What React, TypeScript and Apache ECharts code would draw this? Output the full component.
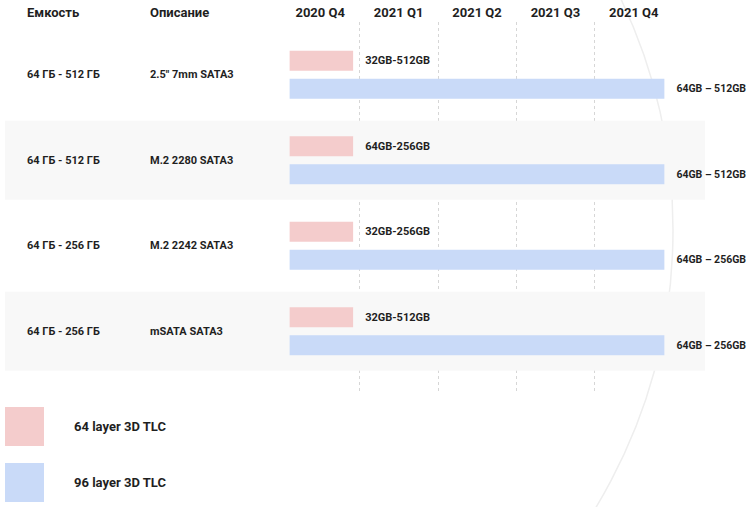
import React, { useEffect, useRef } from "react";
import * as echarts from "echarts";

const quarters = ["2020 Q4", "2021 Q1", "2021 Q2", "2021 Q3", "2021 Q4"];
const capacities = ["64 ГБ - 512 ГБ", "64 ГБ - 512 ГБ", "64 ГБ - 256 ГБ", "64 ГБ - 256 ГБ"];
const descriptions = ['2.5" 7mm SATA3', "M.2 2280 SATA3", "M.2 2242 SATA3", "mSATA SATA3"];
const layer64Start = [0.11, 0.11, 0.11, 0.11];
const layer64End = [0.92, 0.92, 0.92, 0.92];
const layer64Labels = ["32GB-512GB", "64GB-256GB", "32GB-256GB", "32GB-512GB"];
const layer96Start = [0.11, 0.11, 0.11, 0.11];
const layer96End = [4.89, 4.89, 4.89, 4.89];
const layer96Labels = ["64GB – 512GB", "64GB – 512GB", "64GB – 256GB", "64GB – 256GB"];
const rowShaded = [0, 1, 0, 1];
const headers = ["Емкость", "Описание"];
const seriesNames = ["64 layer 3D TLC", "96 layer 3D TLC"];

const FONT = "Roboto, 'Noto Sans', sans-serif";
const PINK = "#f4cccc";
const BLUE = "#c9daf8";
const TEXT = "#1f1f1f";

export default function App() {
  const ref = useRef<HTMLDivElement>(null);
  useEffect(() => {
    if (!ref.current) return;
    const chart = echarts.init(ref.current, undefined, { renderer: "svg" });
    const option: any = {
      animation: false,
      backgroundColor: "#ffffff",
      textStyle: { fontFamily: FONT },
      graphic: [
        {
          type: "circle",
          z: -10,
          silent: true,
          shape: { cx: 135, cy: 230, r: 538 },
          style: { fill: "none", stroke: "#eeeeee", lineWidth: 1.5 },
        },
        {
          type: "text",
          left: 27,
          top: 6,
          style: { text: headers[0], font: `bold 13px ${FONT}`, fill: TEXT },
        },
        {
          type: "text",
          left: 150,
          top: 6,
          style: { text: headers[1], font: `bold 13px ${FONT}`, fill: TEXT },
        },
      ],
      legend: {
        data: seriesNames,
        orient: "vertical",
        left: 0,
        top: 402,
        height: 200,
        itemWidth: 39,
        itemHeight: 39,
        itemGap: 17,
        icon: "rect",
        selectedMode: false,
        textStyle: { fontFamily: FONT, fontSize: 13, fontWeight: "bold", color: TEXT, padding: [0, 0, 0, 25] },
      },
      grid: [
        { left: 281, width: 392, top: 22, bottom: 114 },
        { left: 281, width: 392, top: 32, height: 342 },
        { left: 5, width: 700, top: 32, height: 342 },
      ],
      xAxis: [
        {
          gridIndex: 0,
          type: "category",
          position: "top",
          data: quarters,
          boundaryGap: true,
          axisLine: { show: false },
          axisTick: { show: false },
          axisLabel: { margin: 3, fontFamily: FONT, fontSize: 13, fontWeight: "bold", color: TEXT },
          splitLine: {
            show: true,
            showMinLine: false,
            showMaxLine: false,
            lineStyle: { type: [3, 3], color: "#d6d6d6", width: 1 },
          },
        },
        { gridIndex: 1, type: "value", min: 0, max: 5, show: false },
        { gridIndex: 2, type: "value", min: 0, max: 1, show: false },
      ],
      yAxis: [
        { gridIndex: 0, type: "value", show: false },
        { gridIndex: 1, type: "category", data: descriptions, inverse: true, show: false },
        {
          gridIndex: 2,
          type: "category",
          data: descriptions,
          inverse: true,
          axisLine: { show: false },
          axisTick: { show: false },
          splitLine: { show: false },
          axisLabel: {
            inside: true,
            margin: 22,
            formatter: (value: string, index: number) => `{a|${capacities[index]}}{b|${value}}`,
            rich: {
              a: { width: 123, fontFamily: FONT, fontSize: 11, fontWeight: "bold", color: TEXT },
              b: { fontFamily: FONT, fontSize: 11, fontWeight: "bold", color: TEXT },
            },
          },
        },
      ],
      series: [
        {
          name: "band",
          type: "bar",
          xAxisIndex: 2,
          yAxisIndex: 2,
          barWidth: 79,
          silent: true,
          z: 0,
          data: rowShaded.map((s) => ({ value: 1, itemStyle: { color: s ? "#f8f8f8" : "rgba(0,0,0,0)" } })),
        },
        {
          name: "base64",
          type: "bar",
          xAxisIndex: 1,
          yAxisIndex: 1,
          stack: "l64",
          barWidth: 20,
          barGap: "40%",
          silent: true,
          itemStyle: { color: "rgba(0,0,0,0)" },
          data: layer64Start,
        },
        {
          name: seriesNames[0],
          type: "bar",
          xAxisIndex: 1,
          yAxisIndex: 1,
          stack: "l64",
          barWidth: 20,
          barGap: "40%",
          itemStyle: { color: PINK },
          label: {
            show: true,
            position: "right",
            distance: 12,
            fontFamily: FONT,
            fontSize: 11,
            fontWeight: "bold",
            color: TEXT,
            formatter: (p: any) => layer64Labels[p.dataIndex],
          },
          data: layer64End.map((e, i) => +(e - layer64Start[i]).toFixed(3)),
        },
        {
          name: "base96",
          type: "bar",
          xAxisIndex: 1,
          yAxisIndex: 1,
          stack: "l96",
          barWidth: 20,
          barGap: "40%",
          silent: true,
          itemStyle: { color: "rgba(0,0,0,0)" },
          data: layer96Start,
        },
        {
          name: seriesNames[1],
          type: "bar",
          xAxisIndex: 1,
          yAxisIndex: 1,
          stack: "l96",
          barWidth: 20,
          barGap: "40%",
          itemStyle: { color: BLUE },
          label: {
            show: true,
            position: "right",
            distance: 12,
            fontFamily: FONT,
            fontSize: 10.5,
            fontWeight: "bold",
            color: TEXT,
            formatter: (p: any) => layer96Labels[p.dataIndex],
          },
          data: layer96End.map((e, i) => +(e - layer96Start[i]).toFixed(3)),
        },
      ],
    };
    chart.setOption(option);
    return () => chart.dispose();
  }, []);
  return <div ref={ref} style={{ width: 750, height: 507, position: "absolute", left: 0, top: 0 }} />;
}
